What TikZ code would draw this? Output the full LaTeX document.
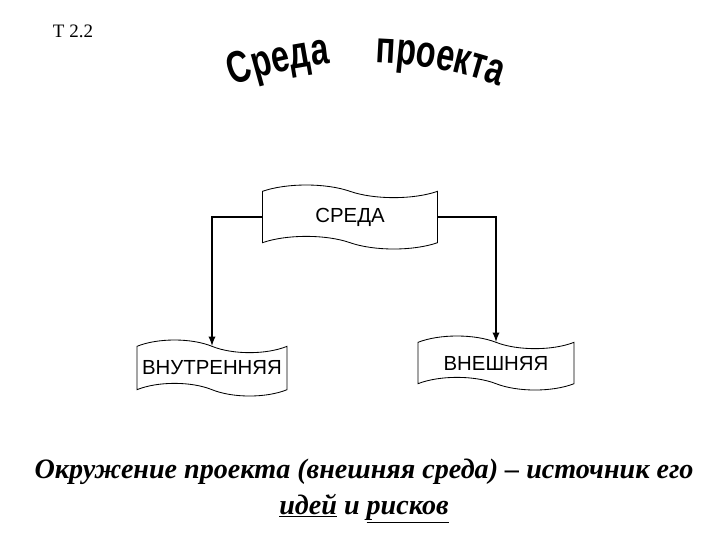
\documentclass[tikz,border=0pt]{standalone}
\usepackage{fontspec}
\setmainfont{Liberation Serif}
\setsansfont{Liberation Sans}
\newfontfamily\wordartfamily[FakeStretch=0.72]{Liberation Sans}
\usepackage{tikz}
\usetikzlibrary{shapes,arrows,positioning,decorations.text}

\newcommand{\wordartfont}{\fontsize{32}{32}\selectfont\wordartfamily\bfseries}

\begin{document}
\begin{tikzpicture}[
    x=0.025cm, y=-0.025cm,
    flag/.style={tape, draw, line width=0.6pt, tape bend top=out and in, tape bend bottom=out and in, tape bend height=9pt, inner sep=0pt, align=center, font=\sffamily\fontsize{14.5}{17}\selectfont},
    arrow/.style={->, >=latex, line width=1.3pt}
]
\useasboundingbox (0,0) rectangle (720,540);

% Slide number
\node[anchor=base west, font=\fontsize{13.5}{15}\selectfont] (tnum) at (48,37) {Т 2.2};

% Curved title
\path[decorate, decoration={text along path, text={|\wordartfont|Среда}, text align=left}] (233,86) .. controls (320,54) and (410,54) .. (500,86);
\path[decorate, decoration={text along path, text={|\wordartfont|проекта}, text align=right}] (233,86) .. controls (320,54) and (410,54) .. (500,86);

% Environment boxes
\node[flag, minimum width=4.375cm, minimum height=1.6cm] (sreda) at (350,217) {СРЕДА};
\node[flag, minimum width=3.75cm, minimum height=1.4cm] (vnutr) at (212,368) {ВНУТРЕННЯЯ};
\node[flag, minimum width=3.9cm, minimum height=1.35cm] (vnesh) at (496,363) {ВНЕШНЯЯ};

% Arrows
\draw[arrow] (sreda.west) -| (vnutr.north);
\draw[arrow] (sreda.east) -| (vnesh.north);

% Caption
\node[anchor=base, align=center, font=\fontsize{20}{25.5}\selectfont\bfseries\itshape] (caption) at (364,514) {Окружение проекта (внешняя среда) – источник его\\\underline{идей} и \underline{рисков}};

\end{tikzpicture}
\end{document}
